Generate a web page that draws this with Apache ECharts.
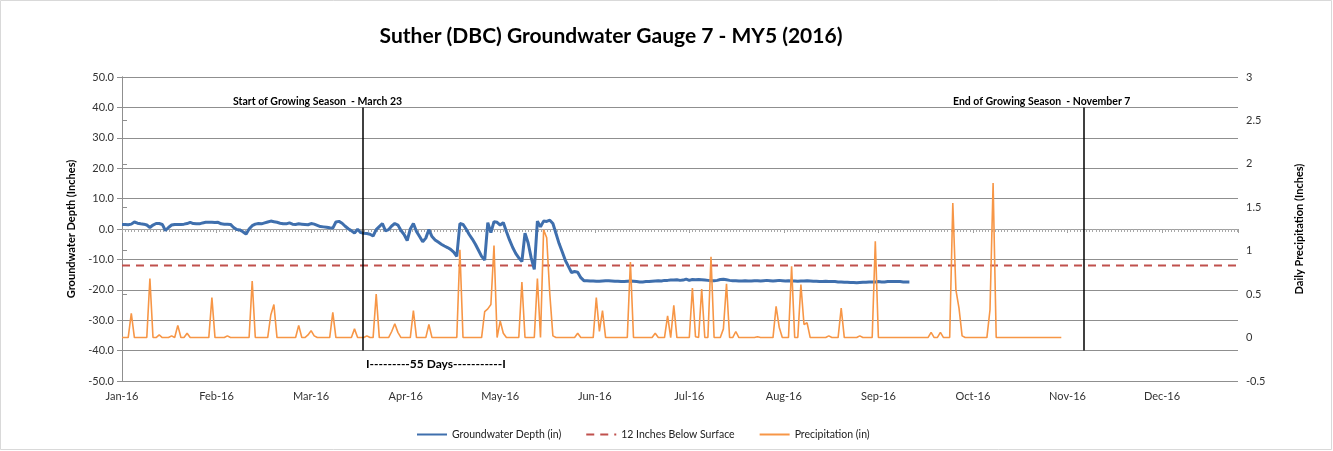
<!DOCTYPE html>
<html>
<head>
<meta charset="utf-8">
<script src="https://cdn.jsdelivr.net/npm/echarts@6/dist/echarts.min.js"></script>
<style>
html,body{margin:0;padding:0;background:#fff;}
#chart{width:1333px;height:451px;}
</style>
</head>
<body>
<div id="chart"></div>
<script>
// ---- DATA ----
const titleText = 'Suther (DBC) Groundwater Gauge 7 - MY5 (2016)';
const monthLabels = ['Jan-16','Feb-16','Mar-16','Apr-16','May-16','Jun-16','Jul-16','Aug-16','Sep-16','Oct-16','Nov-16','Dec-16'];
const labelStepDays = 30.5;   // spacing of the month labels on the day axis
const axisMaxDay = 360;
// groundwater depth (in), daily from Jan 1 (day 0)
const groundwater = [
 1.5,1.5,1.4,1.6,2.3,1.9,1.7,1.6,1.3,0.5,
 1.3,1.8,1.8,1.5,-0.5,0.5,1.3,1.5,1.5,1.5,
 1.6,1.8,2.2,1.8,1.7,1.7,2.0,2.2,2.2,2.2,
 2.1,2.2,1.7,1.6,1.6,1.5,0.5,-0.2,-0.3,-0.9,
 -1.7,0.0,1.1,1.6,1.8,1.7,2.0,2.3,2.6,2.4,
 2.2,1.9,1.7,1.7,2.0,1.6,1.5,1.7,1.6,1.5,
 1.4,1.8,1.6,1.2,0.8,0.7,0.6,0.4,0.3,2.3,
 2.5,1.9,0.9,0.1,-0.6,-1.3,-0.1,-1.2,-1.4,-1.5,
 -1.7,-2.3,-0.2,0.8,1.8,-0.6,-0.2,1.0,1.8,1.3,
 -0.5,-1.8,-3.8,0.0,1.8,-0.8,-2.5,-4.2,-3.0,-0.2,
 -2.5,-3.6,-4.3,-5.0,-5.6,-6.1,-6.7,-7.6,-9.0,1.8,
 1.5,0.0,-1.8,-3.3,-5.0,-7.0,-9.0,-10.2,2.1,-1.2,
 2.4,2.2,1.3,2.1,-0.8,-3.6,-6.0,-8.0,-9.5,-10.7,
 -1.4,-4.5,-9.5,-13.3,2.6,0.7,2.6,2.5,2.9,1.8,
 -1.5,-4.8,-7.5,-10.3,-12.3,-14.3,-14.0,-14.2,-16.0,-17.0,
 -17.0,-17.1,-17.1,-17.2,-17.2,-17.1,-17.0,-17.0,-17.1,-17.2,
 -17.2,-17.3,-17.3,-17.2,-17.1,-17.2,-17.3,-17.4,-17.4,-17.3,
 -17.3,-17.2,-17.1,-17.0,-17.1,-16.9,-16.9,-16.8,-16.8,-16.7,
 -16.9,-16.8,-16.5,-16.9,-16.6,-16.7,-16.6,-16.7,-16.8,-16.9,
 -17.0,-17.0,-16.9,-16.6,-16.5,-16.7,-16.9,-17.0,-17.0,-17.1,
 -17.1,-17.0,-17.1,-17.1,-17.0,-17.0,-17.1,-17.0,-16.9,-17.0,
 -17.1,-17.0,-16.9,-17.0,-17.1,-17.0,-17.1,-17.1,-17.2,-17.1,
 -17.1,-17.0,-17.1,-17.2,-17.2,-17.3,-17.3,-17.2,-17.3,-17.3,
 -17.3,-17.4,-17.4,-17.5,-17.5,-17.6,-17.6,-17.7,-17.6,-17.5,
 -17.5,-17.4,-17.4,-17.4,-17.3,-17.4,-17.4,-17.3,-17.3,-17.3,
 -17.3,-17.3,-17.4,-17.4,-17.4
];
// daily precipitation (in), from Jan 1 (day 0)
const precipitation = [
 0,0,0,0.28,0,0,0,0,0,0.68,
 0,0,0.03,0,0,0,0.02,0,0.14,0,
 0,0.05,0,0,0,0,0,0,0,0.46,
 0,0,0,0,0.02,0,0,0,0,0,
 0,0,0.65,0,0,0,0,0,0.26,0.38,
 0,0,0,0,0,0,0,0.14,0,0,
 0.03,0.08,0.02,0,0,0,0,0,0.29,0,
 0,0,0,0,0,0.1,0,0,0,0.02,
 0,0,0.5,0,0,0,0,0.07,0.16,0.06,
 0,0,0,0,0.31,0,0,0,0,0.15,
 0,0,0,0,0,0,0,0,0,1.01,
 0,0,0,0,0,0,0,0.3,0.33,0.38,
 1.06,0,0.19,0.05,0,0,0,0,0,0.64,
 0,0,0,0,0.68,0,1.24,1.15,0.5,0.02,
 0,0,0,0,0,0,0,0.05,0,0,
 0,0,0,0.46,0.07,0.31,0,0,0,0,
 0,0,0,0,0.87,0,0,0,0,0,
 0,0,0.05,0,0,0,0.25,0,0.37,0,
 0,0,0,0,0.57,0.01,0,0.56,0,0,
 0.93,0,0,0,0.1,0.62,0,0,0.07,0,
 0,0,0,0,0,0.01,0,0,0,0,
 0,0.36,0.12,0,0,0,0.82,0,0,0.61,
 0.15,0.17,0,0,0,0,0,0,0.02,0,
 0,0,0.34,0,0,0,0,0,0.02,0,
 0,0,0,1.11,0,0,0,0,0,0,
 0,0,0,0,0,0,0,0,0,0,
 0,0.06,0,0,0.06,0,0,0,1.55,0.55,
 0.34,0.02,0,0,0,0,0,0,0,0,
 0.32,1.78,0,0,0,0,0,0,0,0,
 0,0,0,0,0,0,0,0,0,0,
 0,0,0,0
];
const thresholdDepth = -12;
const seasonMarkDays = [77.5, 310.3];   // start / end of growing season lines
const seasonMarkRange = [40, -40];
const seasonTexts = ['Start of Growing Season  - March 23', 'End of Growing Season  - November 7'];
const daysText = 'I---------55 Days-----------I';
const seriesNames = ['Groundwater Depth (in)', '12 Inches Below Surface', 'Precipitation (in)'];

// ---- CHART ----
const FONT = 'Lato';
const gridColor = '#8f8f8f';
const chart = echarts.init(document.getElementById('chart'), null, {renderer: 'canvas'});

const gwData = groundwater.map((v, i) => [i, v]);
const prData = precipitation.map((v, i) => [i, v]);
const thData = [[0, thresholdDepth], [axisMaxDay, thresholdDepth]];

function monthFmt(v) {
  const idx = Math.round(v / labelStepDays);
  if (Math.abs(v - idx * labelStepDays) < 0.01 && idx < monthLabels.length) return monthLabels[idx];
  return '';
}

const option = {
  animation: false,
  backgroundColor: '#fff',
  textStyle: {fontFamily: FONT},
  title: {
    text: titleText, left: 606, top: 21, textAlign: 'center',
    textStyle: {fontFamily: FONT, fontWeight: 'bold', fontSize: 21, color: '#000'}
  },
  grid: {left: 122, right: 95, top: 77, bottom: 70, containLabel: false},
  legend: {
    left: 416, top: 429, padding: 0, itemWidth: 30, itemHeight: 8, itemGap: 24,
    itemStyle: {color: 'rgba(0,0,0,0)', borderColor: 'rgba(0,0,0,0)', borderWidth: 0, opacity: 0},
    textStyle: {fontFamily: FONT, fontSize: 10.5, color: '#222'},
    data: seriesNames
  },
  xAxis: [
    {
      type: 'value', min: 0, max: axisMaxDay, interval: labelStepDays,
      position: 'bottom',
      axisLine: {show: false, onZero: false},
      axisTick: {show: false},
      splitLine: {show: false},
      axisLabel: {formatter: monthFmt, fontFamily: FONT, fontSize: 11, color: '#333', margin: 10, showMaxLabel: false}
    },
    {
      type: 'value', min: 0, max: axisMaxDay, interval: labelStepDays,
      position: 'bottom',
      axisLine: {show: true, onZero: true, onZeroAxisIndex: 0, lineStyle: {color: '#a0a0a0', width: 1}},
      axisTick: {show: true, length: 4, lineStyle: {color: '#a0a0a0'}},
      minorTick: {show: true, splitNumber: 30, length: 3, lineStyle: {color: '#a8a8a8'}},
      splitLine: {show: false},
      axisLabel: {show: false}
    }
  ],
  yAxis: [
    {
      type: 'value', min: -50, max: 50, interval: 10, position: 'left',
      name: 'Groundwater Depth (Inches)', nameLocation: 'middle', nameGap: 45,
      nameTextStyle: {fontFamily: FONT, fontWeight: 'bold', fontSize: 11, color: '#000'},
      axisLine: {show: true, lineStyle: {color: gridColor}},
      axisTick: {show: true, length: 5, lineStyle: {color: gridColor}},
      splitLine: {show: true, lineStyle: {color: gridColor, width: 1}},
      axisLabel: {formatter: v => v.toFixed(1), fontFamily: FONT, fontSize: 11, color: '#333', margin: 8}
    },
    {
      type: 'value', min: -0.5, max: 3, interval: 0.5, position: 'right',
      name: 'Daily Precipitation (Inches)', nameLocation: 'middle', nameGap: 56,
      nameTextStyle: {fontFamily: FONT, fontWeight: 'bold', fontSize: 11, color: '#000'},
      axisLine: {show: true, lineStyle: {color: gridColor}},
      axisTick: {show: true, length: 5, lineStyle: {color: gridColor}},
      splitLine: {show: false},
      axisLabel: {fontFamily: FONT, fontSize: 11, color: '#333', margin: 8}
    }
  ],
  series: [
    {
      name: seriesNames[0], type: 'line', xAxisIndex: 0, yAxisIndex: 0,
      data: gwData, showSymbol: false, symbol: 'none',
      lineStyle: {color: '#3F6FAD', width: 3}, itemStyle: {color: '#3F6FAD'},
      z: 3,
      markLine: {
        silent: true, symbol: 'none', label: {show: false},
        lineStyle: {color: '#000', width: 1.5, type: 'solid'},
        data: seasonMarkDays.map(d => [{coord: [d, seasonMarkRange[0]]}, {coord: [d, seasonMarkRange[1]]}])
      }
    },
    {
      name: seriesNames[1], type: 'line', xAxisIndex: 0, yAxisIndex: 0,
      data: thData, showSymbol: false, symbol: 'none',
      lineStyle: {color: '#C0504D', width: 2, type: [8, 6]}, itemStyle: {color: '#C0504D'},
      z: 2
    },
    {
      name: seriesNames[2], type: 'line', xAxisIndex: 0, yAxisIndex: 1,
      data: prData, showSymbol: false, symbol: 'none',
      lineStyle: {color: '#F79646', width: 1.6}, itemStyle: {color: '#F79646'},
      z: 4
    }
  ],
  graphic: [
    {type: 'text', left: 233, top: 96, style: {text: seasonTexts[0], font: 'bold 10.5px Lato', fill: '#000'}},
    {type: 'text', left: 953, top: 96, style: {text: seasonTexts[1], font: 'bold 10.5px Lato', fill: '#000'}},
    {type: 'text', left: 366, top: 358, style: {text: daysText, font: 'bold 12px Lato', fill: '#000'}},
    {type: 'rect', shape: {x: 0.5, y: 0.5, width: 1331, height: 449}, style: {fill: 'none', stroke: '#d9d9d9', lineWidth: 1}, silent: true}
  ]
};
chart.setOption(option);
</script>
</body>
</html>
